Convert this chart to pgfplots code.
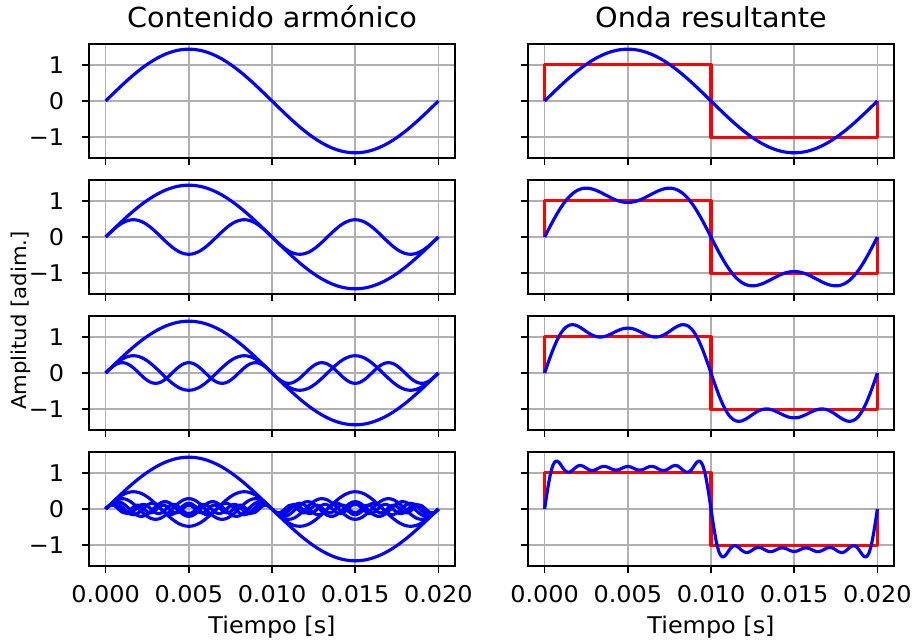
\documentclass[border=0pt]{standalone}
\usepackage{fontspec}
\setmainfont{DejaVu Sans}[FakeStretch=1.04]
\usepackage{pgfplots}
\usepackage{pgfplotstable}
\pgfplotsset{compat=1.18}
\definecolor{gridgray}{RGB}{176,176,176}
\pgfplotstableread{
t a1 a3 a5 a7 a9 a11 a13 s3 s5 s13
0 0 0 0 0 0 0 0 0 0 0
0.000167 0.075 0.075 0.074 0.073 0.072 0.071 0.069 0.150 0.224 0.509
0.000333 0.149 0.147 0.143 0.137 0.129 0.119 0.108 0.296 0.439 0.932
0.0005 0.224 0.216 0.202 0.182 0.157 0.128 0.098 0.440 0.642 1.207
0.000667 0.297 0.280 0.248 0.203 0.151 0.097 0.045 0.577 0.825 1.321
0.000833 0.370 0.337 0.276 0.197 0.112 0.034 -0.028 0.707 0.983 1.298
0.001 0.442 0.386 0.286 0.165 0.049 -0.040 -0.089 0.828 1.114 1.199
0.001167 0.513 0.425 0.276 0.111 -0.025 -0.101 -0.110 0.938 1.214 1.089
0.001333 0.582 0.453 0.248 0.042 -0.093 -0.129 -0.082 1.035 1.283 1.021
0.0015 0.649 0.471 0.202 -0.032 -0.142 -0.116 -0.017 1.120 1.322 1.015
0.001667 0.715 0.477 0.143 -0.102 -0.159 -0.065 0.055 1.192 1.335 1.064
0.001833 0.779 0.471 0.074 -0.159 -0.142 0.007 0.103 1.250 1.324 1.133
0.002 0.841 0.453 0 -0.194 -0.093 0.076 0.105 1.294 1.294 1.188
0.002167 0.900 0.425 -0.074 -0.204 -0.025 0.121 0.060 1.325 1.251 1.203
0.002333 0.957 0.386 -0.143 -0.187 0.049 0.127 -0.011 1.343 1.200 1.178
0.0025 1.011 0.337 -0.202 -0.144 0.112 0.092 -0.078 1.348 1.146 1.128
0.002667 1.063 0.280 -0.248 -0.083 0.151 0.027 -0.109 1.343 1.095 1.081
0.002833 1.111 0.216 -0.276 -0.011 0.157 -0.047 -0.092 1.327 1.051 1.058
0.003 1.157 0.147 -0.286 0.063 0.129 -0.105 -0.034 1.304 1.018 1.071
0.003167 1.199 0.075 -0.276 0.129 0.072 -0.130 0.039 1.274 0.998 1.108
0.003333 1.238 0 -0.248 0.177 0 -0.113 0.095 1.238 0.990 1.149
0.0035 1.274 -0.075 -0.202 0.202 -0.072 -0.059 0.109 1.199 0.997 1.177
0.003667 1.306 -0.147 -0.143 0.200 -0.129 0.014 0.074 1.159 1.016 1.175
0.003833 1.335 -0.216 -0.074 0.171 -0.157 0.082 0.006 1.119 1.045 1.147
0.004 1.360 -0.280 0 0.120 -0.151 0.124 -0.065 1.080 1.080 1.108
0.004167 1.381 -0.337 0.074 0.053 -0.112 0.126 -0.106 1.044 1.118 1.079
0.004333 1.399 -0.386 0.143 -0.021 -0.049 0.087 -0.100 1.013 1.156 1.073
0.0045 1.412 -0.425 0.202 -0.093 0.025 0.020 -0.050 0.987 1.189 1.091
0.004667 1.422 -0.453 0.248 -0.152 0.093 -0.053 0.023 0.969 1.217 1.128
0.004833 1.428 -0.471 0.276 -0.191 0.142 -0.109 0.085 0.957 1.233 1.160
0.005 1.430 -0.477 0.286 -0.204 0.159 -0.130 0.110 0.953 1.239 1.174
0.005167 1.428 -0.471 0.276 -0.191 0.142 -0.109 0.085 0.957 1.233 1.160
0.005333 1.422 -0.453 0.248 -0.152 0.093 -0.053 0.023 0.969 1.217 1.128
0.0055 1.412 -0.425 0.202 -0.093 0.025 0.020 -0.050 0.987 1.189 1.091
0.005667 1.399 -0.386 0.143 -0.021 -0.049 0.087 -0.100 1.013 1.156 1.073
0.005833 1.381 -0.337 0.074 0.053 -0.112 0.126 -0.106 1.044 1.118 1.079
0.006 1.360 -0.280 0 0.120 -0.151 0.124 -0.065 1.080 1.080 1.108
0.006167 1.335 -0.216 -0.074 0.171 -0.157 0.082 0.006 1.119 1.045 1.147
0.006333 1.306 -0.147 -0.143 0.200 -0.129 0.014 0.074 1.159 1.016 1.175
0.0065 1.274 -0.075 -0.202 0.202 -0.072 -0.059 0.109 1.199 0.997 1.177
0.006667 1.238 0 -0.248 0.177 0 -0.113 0.095 1.238 0.990 1.149
0.006833 1.199 0.075 -0.276 0.129 0.072 -0.130 0.039 1.274 0.998 1.108
0.007 1.157 0.147 -0.286 0.063 0.129 -0.105 -0.034 1.304 1.018 1.071
0.007167 1.111 0.216 -0.276 -0.011 0.157 -0.047 -0.092 1.327 1.051 1.058
0.007333 1.063 0.280 -0.248 -0.083 0.151 0.027 -0.109 1.343 1.095 1.081
0.0075 1.011 0.337 -0.202 -0.144 0.112 0.092 -0.078 1.348 1.146 1.128
0.007667 0.957 0.386 -0.143 -0.187 0.049 0.127 -0.011 1.343 1.200 1.178
0.007833 0.900 0.425 -0.074 -0.204 -0.025 0.121 0.060 1.325 1.251 1.203
0.008 0.841 0.453 0 -0.194 -0.093 0.076 0.105 1.294 1.294 1.188
0.008167 0.779 0.471 0.074 -0.159 -0.142 0.007 0.103 1.250 1.324 1.133
0.008333 0.715 0.477 0.143 -0.102 -0.159 -0.065 0.055 1.192 1.335 1.064
0.0085 0.649 0.471 0.202 -0.032 -0.142 -0.116 -0.017 1.120 1.322 1.015
0.008667 0.582 0.453 0.248 0.042 -0.093 -0.129 -0.082 1.035 1.283 1.021
0.008833 0.513 0.425 0.276 0.111 -0.025 -0.101 -0.110 0.938 1.214 1.089
0.009 0.442 0.386 0.286 0.165 0.049 -0.040 -0.089 0.828 1.114 1.199
0.009167 0.370 0.337 0.276 0.197 0.112 0.034 -0.028 0.707 0.983 1.298
0.009333 0.297 0.280 0.248 0.203 0.151 0.097 0.045 0.577 0.825 1.321
0.0095 0.224 0.216 0.202 0.182 0.157 0.128 0.098 0.440 0.642 1.207
0.009667 0.149 0.147 0.143 0.137 0.129 0.119 0.108 0.296 0.439 0.932
0.009833 0.075 0.075 0.074 0.073 0.072 0.071 0.069 0.150 0.224 0.509
0.01 0 0 0 0 0 0 0 0 0 0
0.010167 -0.075 -0.075 -0.074 -0.073 -0.072 -0.071 -0.069 -0.150 -0.224 -0.509
0.010333 -0.149 -0.147 -0.143 -0.137 -0.129 -0.119 -0.108 -0.296 -0.439 -0.932
0.0105 -0.224 -0.216 -0.202 -0.182 -0.157 -0.128 -0.098 -0.440 -0.642 -1.207
0.010667 -0.297 -0.280 -0.248 -0.203 -0.151 -0.097 -0.045 -0.577 -0.825 -1.321
0.010833 -0.370 -0.337 -0.276 -0.197 -0.112 -0.034 0.028 -0.707 -0.983 -1.298
0.011 -0.442 -0.386 -0.286 -0.165 -0.049 0.040 0.089 -0.828 -1.114 -1.199
0.011167 -0.513 -0.425 -0.276 -0.111 0.025 0.101 0.110 -0.938 -1.214 -1.089
0.011333 -0.582 -0.453 -0.248 -0.042 0.093 0.129 0.082 -1.035 -1.283 -1.021
0.0115 -0.649 -0.471 -0.202 0.032 0.142 0.116 0.017 -1.120 -1.322 -1.015
0.011667 -0.715 -0.477 -0.143 0.102 0.159 0.065 -0.055 -1.192 -1.335 -1.064
0.011833 -0.779 -0.471 -0.074 0.159 0.142 -0.007 -0.103 -1.250 -1.324 -1.133
0.012 -0.841 -0.453 0 0.194 0.093 -0.076 -0.105 -1.294 -1.294 -1.188
0.012167 -0.900 -0.425 0.074 0.204 0.025 -0.121 -0.060 -1.325 -1.251 -1.203
0.012333 -0.957 -0.386 0.143 0.187 -0.049 -0.127 0.011 -1.343 -1.200 -1.178
0.0125 -1.011 -0.337 0.202 0.144 -0.112 -0.092 0.078 -1.348 -1.146 -1.128
0.012667 -1.063 -0.280 0.248 0.083 -0.151 -0.027 0.109 -1.343 -1.095 -1.081
0.012833 -1.111 -0.216 0.276 0.011 -0.157 0.047 0.092 -1.327 -1.051 -1.058
0.013 -1.157 -0.147 0.286 -0.063 -0.129 0.105 0.034 -1.304 -1.018 -1.071
0.013167 -1.199 -0.075 0.276 -0.129 -0.072 0.130 -0.039 -1.274 -0.998 -1.108
0.013333 -1.238 0 0.248 -0.177 0 0.113 -0.095 -1.238 -0.990 -1.149
0.0135 -1.274 0.075 0.202 -0.202 0.072 0.059 -0.109 -1.199 -0.997 -1.177
0.013667 -1.306 0.147 0.143 -0.200 0.129 -0.014 -0.074 -1.159 -1.016 -1.175
0.013833 -1.335 0.216 0.074 -0.171 0.157 -0.082 -0.006 -1.119 -1.045 -1.147
0.014 -1.360 0.280 0 -0.120 0.151 -0.124 0.065 -1.080 -1.080 -1.108
0.014167 -1.381 0.337 -0.074 -0.053 0.112 -0.126 0.106 -1.044 -1.118 -1.079
0.014333 -1.399 0.386 -0.143 0.021 0.049 -0.087 0.100 -1.013 -1.156 -1.073
0.0145 -1.412 0.425 -0.202 0.093 -0.025 -0.020 0.050 -0.987 -1.189 -1.091
0.014667 -1.422 0.453 -0.248 0.152 -0.093 0.053 -0.023 -0.969 -1.217 -1.128
0.014833 -1.428 0.471 -0.276 0.191 -0.142 0.109 -0.085 -0.957 -1.233 -1.160
0.015 -1.430 0.477 -0.286 0.204 -0.159 0.130 -0.110 -0.953 -1.239 -1.174
0.015167 -1.428 0.471 -0.276 0.191 -0.142 0.109 -0.085 -0.957 -1.233 -1.160
0.015333 -1.422 0.453 -0.248 0.152 -0.093 0.053 -0.023 -0.969 -1.217 -1.128
0.0155 -1.412 0.425 -0.202 0.093 -0.025 -0.020 0.050 -0.987 -1.189 -1.091
0.015667 -1.399 0.386 -0.143 0.021 0.049 -0.087 0.100 -1.013 -1.156 -1.073
0.015833 -1.381 0.337 -0.074 -0.053 0.112 -0.126 0.106 -1.044 -1.118 -1.079
0.016 -1.360 0.280 0 -0.120 0.151 -0.124 0.065 -1.080 -1.080 -1.108
0.016167 -1.335 0.216 0.074 -0.171 0.157 -0.082 -0.006 -1.119 -1.045 -1.147
0.016333 -1.306 0.147 0.143 -0.200 0.129 -0.014 -0.074 -1.159 -1.016 -1.175
0.0165 -1.274 0.075 0.202 -0.202 0.072 0.059 -0.109 -1.199 -0.997 -1.177
0.016667 -1.238 0 0.248 -0.177 0 0.113 -0.095 -1.238 -0.990 -1.149
0.016833 -1.199 -0.075 0.276 -0.129 -0.072 0.130 -0.039 -1.274 -0.998 -1.108
0.017 -1.157 -0.147 0.286 -0.063 -0.129 0.105 0.034 -1.304 -1.018 -1.071
0.017167 -1.111 -0.216 0.276 0.011 -0.157 0.047 0.092 -1.327 -1.051 -1.058
0.017333 -1.063 -0.280 0.248 0.083 -0.151 -0.027 0.109 -1.343 -1.095 -1.081
0.0175 -1.011 -0.337 0.202 0.144 -0.112 -0.092 0.078 -1.348 -1.146 -1.128
0.017667 -0.957 -0.386 0.143 0.187 -0.049 -0.127 0.011 -1.343 -1.200 -1.178
0.017833 -0.900 -0.425 0.074 0.204 0.025 -0.121 -0.060 -1.325 -1.251 -1.203
0.018 -0.841 -0.453 0 0.194 0.093 -0.076 -0.105 -1.294 -1.294 -1.188
0.018167 -0.779 -0.471 -0.074 0.159 0.142 -0.007 -0.103 -1.250 -1.324 -1.133
0.018333 -0.715 -0.477 -0.143 0.102 0.159 0.065 -0.055 -1.192 -1.335 -1.064
0.0185 -0.649 -0.471 -0.202 0.032 0.142 0.116 0.017 -1.120 -1.322 -1.015
0.018667 -0.582 -0.453 -0.248 -0.042 0.093 0.129 0.082 -1.035 -1.283 -1.021
0.018833 -0.513 -0.425 -0.276 -0.111 0.025 0.101 0.110 -0.938 -1.214 -1.089
0.019 -0.442 -0.386 -0.286 -0.165 -0.049 0.040 0.089 -0.828 -1.114 -1.199
0.019167 -0.370 -0.337 -0.276 -0.197 -0.112 -0.034 0.028 -0.707 -0.983 -1.298
0.019333 -0.297 -0.280 -0.248 -0.203 -0.151 -0.097 -0.045 -0.577 -0.825 -1.321
0.0195 -0.224 -0.216 -0.202 -0.182 -0.157 -0.128 -0.098 -0.440 -0.642 -1.207
0.019667 -0.149 -0.147 -0.143 -0.137 -0.129 -0.119 -0.108 -0.296 -0.439 -0.932
0.019833 -0.075 -0.075 -0.074 -0.073 -0.072 -0.071 -0.069 -0.150 -0.224 -0.509
0.02 0 0 0 0 0 0 0 0 0 0
}\wave
\pgfplotsset{
  panel/.style={
    scale only axis, width=183pt, height=57pt,
    xmin=-0.001, xmax=0.021, ymin=-1.573, ymax=1.573,
    xtick={0,0.005,0.01,0.015,0.02}, ytick={-1,0,1},
    xticklabels={}, yticklabels={},
    grid=major, grid style={gridgray, line width=0.84pt},
    tick pos=left, tick align=outside, major tick length=3.7pt,
    tick style={black, line width=0.84pt},
    axis line style={black, line width=0.84pt},
    tick label style={font=\fontsize{11.5}{13}\selectfont, black},
    xticklabel style={yshift=-2.4pt},
    yticklabel style={xshift=-5.2pt},
    scaled x ticks=false,
  },
  ylab/.style={yticklabels={−1,0,1}},
  xlab/.style={xticklabels={0.000,0.005,0.010,0.015,0.020}},
  wv/.style={blue, line width=1.575pt, smooth, line join=round},
  sq/.style={red, line width=1.575pt, line join=round},
}
\begin{document}
\begin{tikzpicture}
\useasboundingbox (-44.5pt,22pt) rectangle (411.5pt,-298.5pt);
% left column
\begin{axis}[panel, ylab, at={(0pt,0pt)}, anchor=north west]
\addplot[wv] table[x=t,y=a1]{\wave};
\end{axis}
\begin{axis}[panel, ylab, at={(0pt,-68pt)}, anchor=north west]
\addplot[wv] table[x=t,y=a1]{\wave};
\addplot[wv] table[x=t,y=a3]{\wave};
\end{axis}
\begin{axis}[panel, ylab, at={(0pt,-136pt)}, anchor=north west]
\addplot[wv] table[x=t,y=a1]{\wave};
\addplot[wv] table[x=t,y=a3]{\wave};
\addplot[wv] table[x=t,y=a5]{\wave};
\end{axis}
\begin{axis}[panel, ylab, xlab, at={(0pt,-204pt)}, anchor=north west]
\addplot[wv] table[x=t,y=a1]{\wave};
\addplot[wv] table[x=t,y=a3]{\wave};
\addplot[wv] table[x=t,y=a5]{\wave};
\addplot[wv] table[x=t,y=a7]{\wave};
\addplot[wv] table[x=t,y=a9]{\wave};
\addplot[wv] table[x=t,y=a11]{\wave};
\addplot[wv] table[x=t,y=a13]{\wave};
\end{axis}
% right column
\begin{axis}[panel, at={(219.5pt,0pt)}, anchor=north west]
\addplot[sq] coordinates {(0,0) (0,1) (0.01,1) (0.01,-1) (0.02,-1) (0.02,0)};
\addplot[wv] table[x=t,y=a1]{\wave};
\end{axis}
\begin{axis}[panel, at={(219.5pt,-68pt)}, anchor=north west]
\addplot[sq] coordinates {(0,0) (0,1) (0.01,1) (0.01,-1) (0.02,-1) (0.02,0)};
\addplot[wv] table[x=t,y=s3]{\wave};
\end{axis}
\begin{axis}[panel, at={(219.5pt,-136pt)}, anchor=north west]
\addplot[sq] coordinates {(0,0) (0,1) (0.01,1) (0.01,-1) (0.02,-1) (0.02,0)};
\addplot[wv] table[x=t,y=s5]{\wave};
\end{axis}
\begin{axis}[panel, xlab, at={(219.5pt,-204pt)}, anchor=north west]
\addplot[sq] coordinates {(0,0) (0,1) (0.01,1) (0.01,-1) (0.02,-1) (0.02,0)};
\addplot[wv] table[x=t,y=s13]{\wave};
\end{axis}
% titles and labels
\node[anchor=base, font=\fontsize{13.8}{16}\selectfont] at (91.5pt,8pt) {Contenido armónico};
\node[anchor=base, font=\fontsize{13.8}{16}\selectfont] at (311pt,8pt) {Onda resultante};
\node[anchor=base, font=\fontsize{11.5}{13}\selectfont] at (91.5pt,-295pt) {Tiempo [s]};
\node[anchor=base, font=\fontsize{11.5}{13}\selectfont] at (311pt,-295pt) {Tiempo [s]};
\node[rotate=90, font=\fontsize{10.2}{12}\selectfont] at (-34pt,-138.2pt) {Amplitud [adim.]};
\end{tikzpicture}
\end{document}
